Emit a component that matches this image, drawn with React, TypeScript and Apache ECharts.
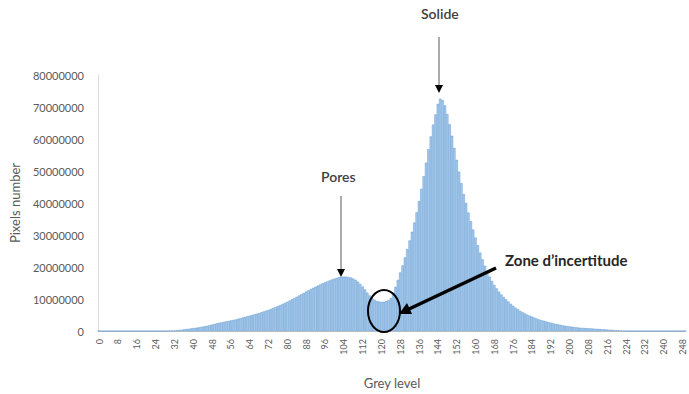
import React, { useEffect, useRef } from "react";
import * as echarts from "echarts";

// Grey levels 0..249
const greyLevels: string[] = Array.from({ length: 250 }, (_, i) => String(i));

// Pixel counts per grey level
const pixelCounts: number[] = [
  // 0-29
  0, 0, 0, 0, 0, 0, 0, 0, 0, 0,
  0, 0, 0, 0, 0, 0, 0, 0, 0, 0,
  0, 0, 0, 0, 0, 0, 0, 0, 0, 0,
  // 30-39
  100000, 150000, 200000, 250000, 300000, 400000, 500000, 600000, 700000, 800000,
  // 40-49
  900000, 1000000, 1100000, 1200000, 1350000, 1500000, 1650000, 1800000, 2000000, 2200000,
  // 50-59
  2400000, 2550000, 2700000, 2850000, 3000000, 3150000, 3300000, 3450000, 3600000, 3800000,
  // 60-69
  4000000, 4200000, 4400000, 4600000, 4800000, 5000000, 5200000, 5400000, 5600000, 5850000,
  // 70-79
  6100000, 6350000, 6600000, 6900000, 7200000, 7500000, 7800000, 8100000, 8450000, 8800000,
  // 80-89
  9150000, 9500000, 9900000, 10300000, 10700000, 11100000, 11500000, 11900000, 12300000, 12700000,
  // 90-99
  13100000, 13500000, 13850000, 14200000, 14550000, 14900000, 15200000, 15500000, 15800000, 16100000,
  // 100-109
  16350000, 16600000, 16800000, 16950000, 17000000, 17000000, 16900000, 16700000, 16400000, 16000000,
  // 110-119
  15400000, 14700000, 13900000, 13000000, 12000000, 11100000, 10400000, 9800000, 9400000, 9200000,
  // 120-129
  9100000, 9150000, 9300000, 9600000, 10300000, 11800000, 13800000, 16000000, 18300000, 20500000,
  // 130-139
  23000000, 25600000, 28300000, 31000000, 33900000, 37100000, 40600000, 44400000, 48400000, 52600000,
  // 140-149
  56800000, 60800000, 64500000, 67700000, 71000000, 72600000, 72200000, 70500000, 67800000, 64600000,
  // 150-159
  61000000, 57200000, 53500000, 49800000, 46200000, 42800000, 40000000, 37000000, 34300000, 31700000,
  // 160-169
  29200000, 26800000, 24500000, 22400000, 20400000, 18600000, 17000000, 15600000, 14400000, 13300000,
  // 170-179
  12300000, 11400000, 10600000, 9900000, 9200000, 8500000, 7900000, 7300000, 6800000, 6300000,
  // 180-189
  5900000, 5500000, 5100000, 4800000, 4500000, 4200000, 3900000, 3600000, 3400000, 3200000,
  // 190-199
  3000000, 2800000, 2600000, 2400000, 2250000, 2100000, 1950000, 1800000, 1650000, 1550000,
  // 200-209
  1450000, 1350000, 1250000, 1150000, 1050000, 1000000, 950000, 900000, 850000, 800000,
  // 210-219
  750000, 700000, 650000, 600000, 550000, 500000, 450000, 400000, 350000, 300000,
  // 220-229
  250000, 200000, 150000, 100000, 50000, 0, 0, 0, 0, 0,
  // 230-249
  0, 0, 0, 0, 0, 0, 0, 0, 0, 0,
  0, 0, 0, 0, 0, 0, 0, 0, 0, 0,
];

const yTicks = { min: 0, max: 80000000, interval: 10000000 };

const FONT = "Lato, 'Open Sans', sans-serif";

export default function App() {
  const ref = useRef<HTMLDivElement>(null);

  useEffect(() => {
    if (!ref.current) return;
    const chart = echarts.init(ref.current, null, { renderer: "svg" });
    const Z = 100;
    chart.setOption({
      animation: false,
      backgroundColor: "#ffffff",
      textStyle: { fontFamily: FONT },
      grid: { left: 97, right: 3, top: 75, bottom: 58, containLabel: false },
      xAxis: {
        type: "category",
        data: greyLevels,
        name: "Grey level",
        nameLocation: "middle",
        nameGap: 45,
        nameTextStyle: { color: "#595959", fontSize: 13, fontFamily: FONT },
        axisLine: { show: true, lineStyle: { color: "#bfbfbf", width: 1 } },
        axisTick: { show: false },
        axisLabel: {
          interval: 7,
          rotate: 90,
          fontSize: 9,
          color: "#595959",
          margin: 8,
          fontFamily: FONT,
        },
        splitLine: { show: false },
      },
      yAxis: {
        type: "value",
        min: yTicks.min,
        max: yTicks.max,
        interval: yTicks.interval,
        name: "Pixels number",
        nameLocation: "middle",
        nameGap: 77,
        nameTextStyle: { color: "#595959", fontSize: 13, fontFamily: FONT },
        axisLine: { show: true, lineStyle: { color: "#d9d9d9", width: 1 } },
        axisTick: { show: false },
        axisLabel: {
          fontSize: 11,
          color: "#595959",
          margin: 14,
          fontFamily: FONT,
          formatter: (v: number) => String(v),
        },
        splitLine: { show: false },
      },
      series: [
        {
          type: "bar",
          data: pixelCounts,
          barCategoryGap: "0%",
          barGap: "0%",
          itemStyle: {
            color: "#a9cbeb",
            borderColor: "#5f98d2",
            borderWidth: 0.5,
          },
        },
      ],
      graphic: [
        // Solide
        {
          type: "text",
          z: Z,
          left: 421,
          top: 6,
          style: { text: "Solide", fontSize: 14, fill: "#404040", fontFamily: FONT, fontWeight: 600 },
        },
        {
          type: "line",
          z: Z,
          shape: { x1: 439, y1: 37, x2: 439, y2: 86 },
          style: { stroke: "#595959", lineWidth: 1 },
        },
        {
          type: "polygon",
          z: Z,
          shape: { points: [[435, 85], [443, 85], [439, 93]] },
          style: { fill: "#000000" },
        },
        // Pores
        {
          type: "text",
          z: Z,
          left: 321,
          top: 169,
          style: { text: "Pores", fontSize: 14, fill: "#404040", fontFamily: FONT, fontWeight: 600 },
        },
        {
          type: "line",
          z: Z,
          shape: { x1: 341, y1: 196, x2: 341, y2: 270 },
          style: { stroke: "#595959", lineWidth: 1 },
        },
        {
          type: "polygon",
          z: Z,
          shape: { points: [[337, 269], [345, 269], [341, 277]] },
          style: { fill: "#000000" },
        },
        // Zone d'incertitude
        {
          type: "ellipse",
          z: Z,
          shape: { cx: 384, cy: 311, rx: 16, ry: 21 },
          style: { fill: null, stroke: "#000000", lineWidth: 2 },
        },
        {
          type: "line",
          z: Z,
          shape: { x1: 496, y1: 268, x2: 409, y2: 309 },
          style: { stroke: "#000000", lineWidth: 3.5 },
        },
        {
          type: "polygon",
          z: Z,
          shape: { points: [[399, 314], [407, 303], [412, 314]] },
          style: { fill: "#000000" },
        },
        {
          type: "text",
          z: Z,
          left: 505,
          top: 252,
          style: {
            text: "Zone d\u2019incertitude",
            fontSize: 15,
            fill: "#262626",
            fontFamily: FONT,
            fontWeight: "bold",
          },
        },
      ],
    });
    return () => chart.dispose();
  }, []);

  return <div ref={ref} style={{ width: 689, height: 394, position: "absolute", left: 0, top: 0 }} />;
}
